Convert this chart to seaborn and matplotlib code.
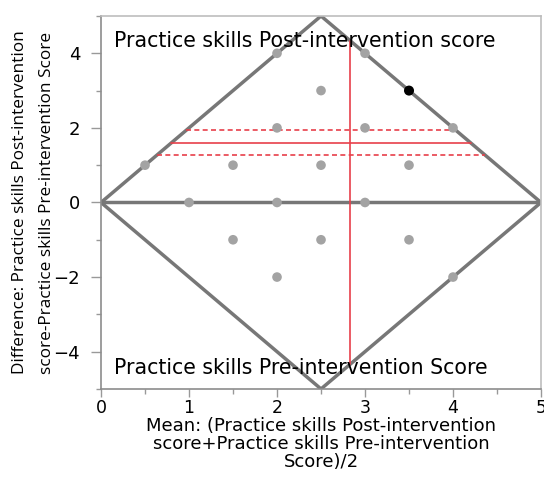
import numpy as np
import pandas as pd
import matplotlib
matplotlib.use("Agg")
import matplotlib.pyplot as plt
import seaborn as sns
from matplotlib.ticker import MultipleLocator

# Bland-Altman style points (mean, difference)
mean_vals = [0.5, 1.0, 1.5, 1.5, 2.0, 2.0, 2.0, 2.0, 2.5, 2.5, 2.5, 3.0, 3.0, 3.0, 3.5, 3.5, 4.0, 4.0]
diff_vals = [1, 0, 1, -1, 4, 2, 0, -2, 3, 1, -1, 4, 2, 0, 1, -1, 2, -2]
highlight_mean = [3.5]
highlight_diff = [3]

# summary statistics
mean_diff = 1.6
diff_ci_low = 1.27
diff_ci_high = 1.93
mean_of_means = 2.83

score_max = 5
top_label = "Practice skills Post-intervention score"
bottom_label = "Practice skills Pre-intervention Score"
x_label = "Mean: (Practice skills Post-intervention\nscore+Practice skills Pre-intervention\nScore)/2"
y_label = "Difference: Practice skills Post-intervention\nscore-Practice skills Pre-intervention Score"

sns.set_theme(style="white")
plt.rcParams["font.family"] = ["DejaVu Sans"]
plt.rcParams["text.color"] = "black"
plt.rcParams["axes.labelcolor"] = "black"
plt.rcParams["xtick.color"] = "black"
plt.rcParams["ytick.color"] = "black"

fig = plt.figure(figsize=(5.44, 4.79), dpi=100)
ax = fig.add_axes([0.1857, 0.188, 0.8088, 0.7786])

df = pd.DataFrame({"mean": mean_vals, "diff": diff_vals})
sns.scatterplot(data=df, x="mean", y="diff", ax=ax, color="#a3a3a3", s=48,
                edgecolor="none", zorder=3)
sns.scatterplot(x=highlight_mean, y=highlight_diff, ax=ax, color="black", s=52,
                edgecolor="none", zorder=4)

# diamond of possible values
half = score_max / 2
grey = "#777777"
ax.plot([0, half, score_max, half, 0], [0, score_max, 0, -score_max, 0],
        color=grey, lw=2.5, zorder=2, solid_joinstyle="miter")
ax.plot([0, score_max], [0, 0], color=grey, lw=2.5, zorder=2)

red = "#e8404a"
def span(d):
    # x extent of the diamond at difference d
    return abs(d) / 2, score_max - abs(d) / 2

lo, hi = span(mean_diff)
ax.plot([lo, hi], [mean_diff, mean_diff], color=red, lw=1.2, zorder=2.5)
for d in (diff_ci_low, diff_ci_high):
    lo, hi = span(d)
    ax.plot([lo, hi], [d, d], color=red, lw=1.2, ls=(0, (3, 2)), zorder=2.5)
vert = 2 * (score_max - mean_of_means)
ax.plot([mean_of_means, mean_of_means], [-vert, vert], color=red, lw=1.2, zorder=2.5)

ax.text(0.15, 4.32, top_label, fontsize=14.8, va="center", ha="left")
ax.text(0.15, -4.43, bottom_label, fontsize=14.8, va="center", ha="left")

ax.set_xlim(0, score_max)
ax.set_ylim(-score_max, score_max)
ax.xaxis.set_major_locator(MultipleLocator(1))
ax.xaxis.set_minor_locator(MultipleLocator(0.5))
ax.yaxis.set_major_locator(MultipleLocator(2))
ax.yaxis.set_minor_locator(MultipleLocator(1))
ax.tick_params(which="major", direction="out", length=7, width=1, color="#999999",
               labelsize=13, bottom=True, left=True, labelcolor="black")
ax.tick_params(axis="y", which="major", pad=8)
ax.tick_params(axis="x", which="major", length=6, pad=1.5, labelsize=12.5)
ax.tick_params(which="minor", direction="out", length=3.5, width=1, color="#999999",
               bottom=True, left=True)

for side in ["left", "bottom"]:
    ax.spines[side].set_color("#8c8c8c")
    ax.spines[side].set_linewidth(1.2)
for side in ["top", "right"]:
    ax.spines[side].set_color("#bdbdbd")
    ax.spines[side].set_linewidth(1.2)

ax.set_xlabel(x_label, fontsize=13, linespacing=0.97, labelpad=0)
ax.set_ylabel(y_label, fontsize=12.4, linespacing=1.95, labelpad=-1,
              fontfamily=["Open Sans", "DejaVu Sans"])

fig.savefig("out.png", dpi=100)
